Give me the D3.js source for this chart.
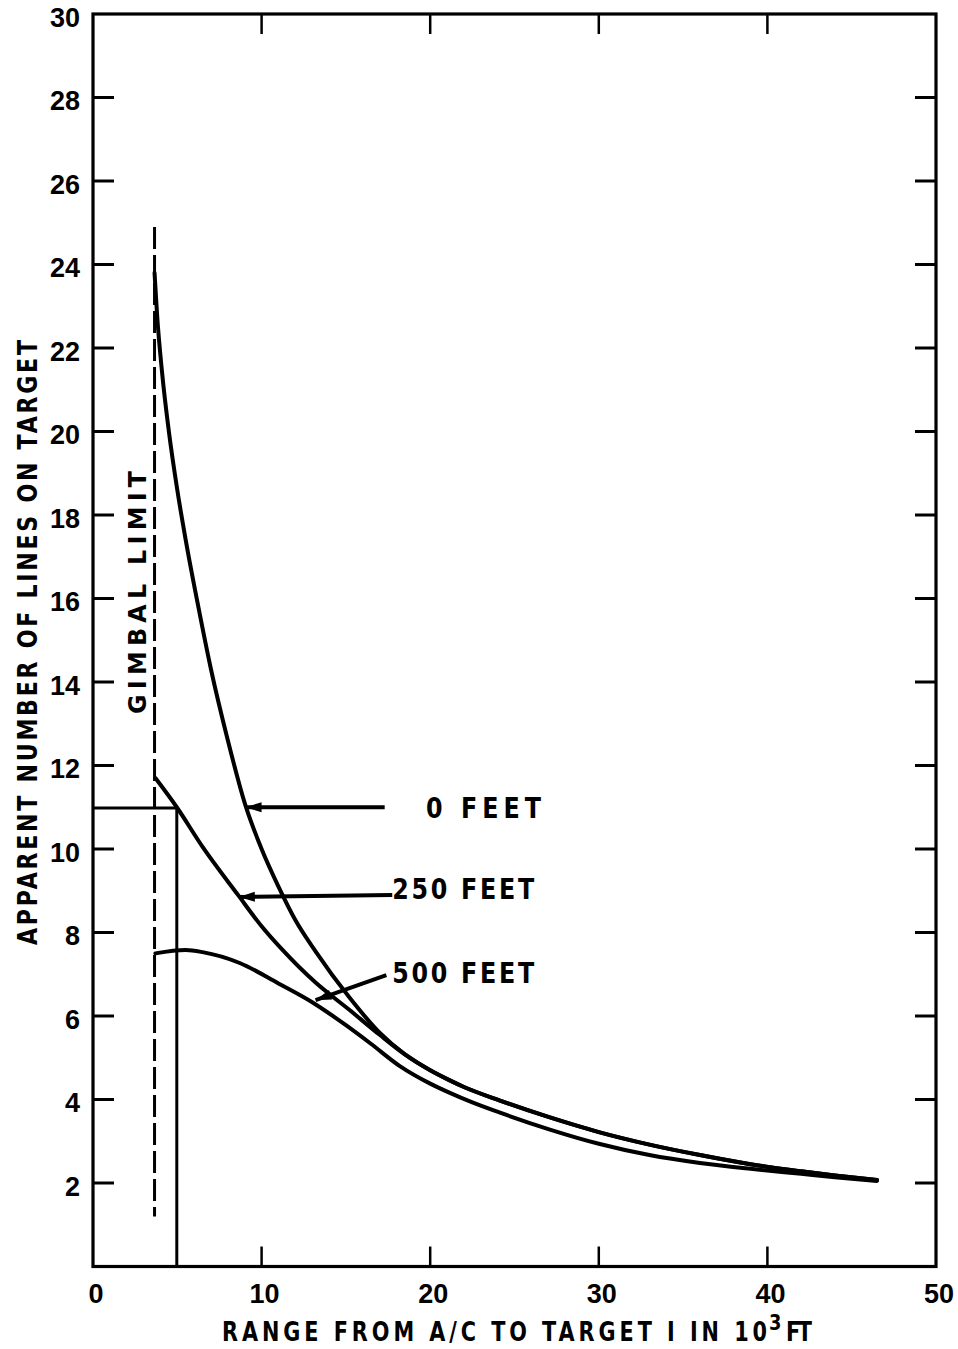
<!DOCTYPE html>
<html><head><meta charset="utf-8">
<script src="https://cdn.jsdelivr.net/npm/d3@7"></script>
<style>
html,body{margin:0;padding:0;background:#fff;}
svg text{font-family:"DejaVu Sans",sans-serif;font-weight:bold;fill:#000;}
svg text.num{font-family:"Liberation Sans",Arial,sans-serif;}
</style></head>
<body>
<script>
// ---- data ----
const xTicks = [0,10,20,30,40,50];
const yTicks = [2,4,6,8,10,12,14,16,18,20,22,24,26,28,30];
const feet0 = [[3.65,23.8],[3.8,22.8],[4.1,21.4],[4.5,20.0],[5.0,18.6],[5.5,17.4],[6.2,15.9],[7.0,14.3],[8.0,12.6],[9.0,11.1],[10.0,10.0],[11.0,9.1],[12.0,8.3],[13.2,7.55],[15.2,6.45],[17.0,5.6],[18.5,5.08],[20.0,4.7],[21.1,4.47],[22.0,4.3],[24.1,3.98],[27.1,3.57],[30,3.22],[33,2.92],[36,2.67],[39,2.45],[42,2.28],[44,2.18],[46.5,2.07]];
const feet250 = [[3.7,11.7],[4.97,11.0],[6.5,10.05],[8.6,8.9],[10.0,8.15],[11.2,7.6],[13.2,6.8],[15.2,6.15],[17.0,5.55],[18.5,5.08],[20.0,4.7],[21.1,4.47],[22.0,4.3],[24.1,3.98],[27.1,3.57],[30,3.22],[33,2.92],[36,2.67],[39,2.45],[42,2.28],[44,2.18],[46.5,2.07]];
const feet500 = [[3.7,7.5],[5.5,7.58],[6.5,7.53],[8.7,7.27],[11.0,6.78],[13.0,6.33],[15.0,5.78],[16.5,5.33],[18.2,4.8],[20.0,4.38],[21.1,4.17],[22.5,3.93],[24.1,3.69],[27.1,3.28],[30,2.94],[33,2.67],[36,2.48],[39,2.34],[42,2.22],[44,2.14],[46.5,2.05]];
const gimbalX = 3.65, gimbalY = [1.2, 24.9];
const refLineY = 10.98, refLineX = 4.97;
const labels = [
  {text:"0 FEET",   x:19.75, y:11.0, len:115, from:[17.3,11.0], to:[9.05,11.0]},
  {text:"250 FEET", x:17.75, y:9.05, len:142, from:[17.75,8.9], to:[8.65,8.85]},
  {text:"500 FEET", x:17.75, y:7.05, len:142, from:[17.4,6.98], to:[13.2,6.38]}
];

// ---- layout ----
const W = 958, H = 1349;
const svg = d3.select("body").append("svg").attr("width",W).attr("height",H);
const x = d3.scaleLinear().domain([0,50]).range([93,936]);
const y = d3.scaleLinear().domain([0,30]).range([1266.5,14]);

const g = svg.append("g");
const stroke = "#000";

// condensed text helper
function ctext(tx, ty, rot, str, size, len, sx){
  const gg = g.append("g").attr("transform",`translate(${tx},${ty}) rotate(${rot}) scale(${sx},1)`);
  const t = gg.append("text").attr("x",0).attr("y",0).attr("font-size",size).text(str);
  if(len) t.attr("textLength",len/sx).attr("lengthAdjust","spacing");
  return t;
}

// frame
g.append("rect").attr("x",x(0)).attr("y",y(30)).attr("width",x(50)-x(0)).attr("height",y(0)-y(30))
 .attr("fill","none").attr("stroke",stroke).attr("stroke-width",3.2);

// ticks
const tl = 21;
const yt = yTicks.filter(d=>d<30);
g.selectAll(".ytl").data(yt).join("line").attr("x1",x(0)).attr("x2",x(0)+tl).attr("y1",d=>y(d)).attr("y2",d=>y(d)).attr("stroke",stroke).attr("stroke-width",3);
g.selectAll(".ytr").data(yt).join("line").attr("x1",x(50)).attr("x2",x(50)-tl).attr("y1",d=>y(d)).attr("y2",d=>y(d)).attr("stroke",stroke).attr("stroke-width",3);
const xt = xTicks.filter(d=>d>0 && d<50);
g.selectAll(".xtb").data(xt).join("line").attr("x1",d=>x(d)).attr("x2",d=>x(d)).attr("y1",y(0)).attr("y2",y(0)-20).attr("stroke",stroke).attr("stroke-width",2.5);
g.selectAll(".xtt").data(xt).join("line").attr("x1",d=>x(d)).attr("x2",d=>x(d)).attr("y1",y(30)).attr("y2",y(30)+20).attr("stroke",stroke).attr("stroke-width",2.5);

// tick labels
g.selectAll(".yl").data(yTicks).join("text").attr("class","num").attr("x",x(0)-13).attr("y",d=>y(d)+3).attr("dy","0.36em")
 .attr("text-anchor","end").attr("font-size",27).text(d=>d);
g.selectAll(".xl").data(xTicks).join("text").attr("class","num").attr("x",d=>x(d)+3).attr("y",1303)
 .attr("text-anchor","middle").attr("font-size",27).text(d=>d);

// axis titles
ctext(37, 945, -90, "APPARENT NUMBER OF LINES ON TARGET", 26, 605, 0.85);
ctext(222, 1341, 0, "RANGE FROM A/C TO TARGET I IN 10", 26, 545, 0.8);
ctext(769, 1330, 0, "3", 21, null, 0.85);
ctext(786, 1341, 0, "FT", 26, 26, 0.8);

// gimbal limit
g.append("line").attr("x1",x(gimbalX)).attr("x2",x(gimbalX)).attr("y1",y(gimbalY[1])).attr("y2",y(gimbalY[0]))
 .attr("stroke",stroke).attr("stroke-width",3).attr("stroke-dasharray","22,6");
ctext(x(gimbalX)-9, 714, -90, "GIMBAL LIMIT", 25, 243, 0.95);

// reference lines
g.append("line").attr("x1",x(0)).attr("x2",x(refLineX)).attr("y1",y(refLineY)).attr("y2",y(refLineY)).attr("stroke",stroke).attr("stroke-width",3);
g.append("line").attr("x1",x(refLineX)).attr("x2",x(refLineX)).attr("y1",y(refLineY)).attr("y2",y(0)).attr("stroke",stroke).attr("stroke-width",3);

// curves
const line = d3.line().x(d=>x(d[0])).y(d=>y(d[1])).curve(d3.curveMonotoneX);
[feet0,feet250,feet500].forEach(s=>{
  g.append("path").attr("d",line(s)).attr("fill","none").attr("stroke",stroke).attr("stroke-width",4).attr("stroke-linejoin","round").attr("stroke-linecap","round");
});

// labels & arrows
labels.forEach(l=>{
  ctext(x(l.x), y(l.y)+10.5, 0, l.text, 28, l.len, 0.85);
  const x1=x(l.from[0]), y1=y(l.from[1]), x2=x(l.to[0]), y2=y(l.to[1]);
  g.append("line").attr("x1",x1).attr("y1",y1).attr("x2",x2).attr("y2",y2).attr("stroke",stroke).attr("stroke-width",4);
  const a = Math.atan2(y2-y1,x2-x1), L=16, Wd=5;
  const p = [[x2,y2],[x2-L*Math.cos(a)+Wd*Math.sin(a), y2-L*Math.sin(a)-Wd*Math.cos(a)],[x2-L*Math.cos(a)-Wd*Math.sin(a), y2-L*Math.sin(a)+Wd*Math.cos(a)]];
  g.append("path").attr("d","M"+p.map(q=>q.join(",")).join("L")+"Z").attr("fill",stroke);
});
</script>
</body></html>
